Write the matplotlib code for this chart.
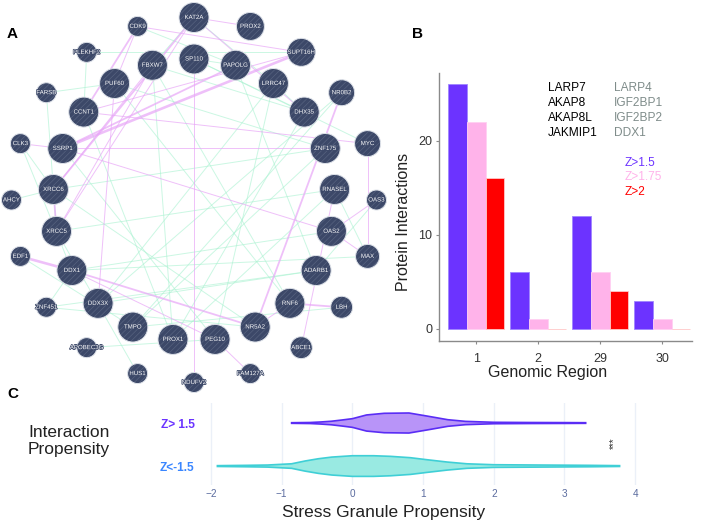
import numpy as np
import matplotlib.pyplot as plt
from matplotlib.patches import Circle
import matplotlib.patheffects as pe

plt.rcParams['font.family'] = ['Liberation Sans', 'DejaVu Sans']
plt.rcParams['hatch.linewidth'] = 0.5

# ---- A: network (circular layout, two rings) ----
outer_nodes = ['OAS3', 'MYC', 'NR0B2', 'SUPT16H', 'PROX2', 'KAT2A', 'CDK9', 'PLEKHF2',
               'FARSB', 'CLK3', 'AHCY', 'EDF1', 'ZNF451', 'APOBEC3G', 'HUS1', 'NDUFV2',
               'FAM127A', 'ABCE1', 'LBH', 'MAX']
inner_nodes = ['RNASEL', 'ZNF175', 'DHX35', 'LRRC47', 'PAPOLG', 'SP110', 'FBXW7', 'PUF60',
               'CCNT1', 'SSRP1', 'XRCC6', 'XRCC5', 'DDX1', 'DDX3X', 'TMPO', 'PROX1', 'PEG10',
               'NR5A2', 'RNF6', 'ADARB1', 'OAS2']

pink_edges = [('SUPT16H', 'SSRP1', 3), ('SUPT16H', 'CCNT1', 1), ('PAPOLG', 'SSRP1', 2),
              ('KAT2A', 'XRCC6', 2), ('KAT2A', 'XRCC5', 1), ('CDK9', 'CCNT1', 2),
              ('CDK9', 'PUF60', 1), ('FBXW7', 'XRCC6', 1), ('FBXW7', 'XRCC5', 1),
              ('XRCC6', 'XRCC5', 2), ('EDF1', 'DDX1', 3), ('DDX1', 'NR5A2', 2),
              ('NR5A2', 'RNF6', 1), ('RNF6', 'LBH', 2), ('NR0B2', 'NR5A2', 2),
              ('RNASEL', 'ABCE1', 1), ('OAS2', 'MAX', 1), ('OAS3', 'OAS2', 1),
              ('MYC', 'MAX', 1), ('SSRP1', 'OAS2', 1), ('SP110', 'NDUFV2', 1),
              ('PEG10', 'FAM127A', 1), ('CLK3', 'SSRP1', 1), ('CCNT1', 'MYC', 1),
              ('CDK9', 'SUPT16H', 1), ('KAT2A', 'PROX2', 1), ('PUF60', 'DDX3X', 1),
              ('SSRP1', 'ZNF175', 1), ('DDX1', 'PEG10', 1), ('KAT2A', 'DHX35', 1)]

green_edges = [('FARSB', 'XRCC5'), ('FARSB', 'PUF60'), ('CLK3', 'XRCC6'), ('CLK3', 'DDX1'),
               ('AHCY', 'XRCC6'), ('EDF1', 'TMPO'), ('ZNF451', 'NR5A2'), ('ZNF451', 'DDX1'),
               ('APOBEC3G', 'PEG10'), ('HUS1', 'XRCC5'), ('DDX3X', 'ADARB1'), ('TMPO', 'NR0B2'),
               ('PROX1', 'DHX35'), ('PEG10', 'LRRC47'), ('SP110', 'PAPOLG'), ('KAT2A', 'LRRC47'),
               ('CDK9', 'PAPOLG'), ('PLEKHF2', 'SUPT16H'), ('FBXW7', 'RNF6'), ('PUF60', 'ZNF175'),
               ('XRCC5', 'RNASEL'), ('DDX1', 'OAS2'), ('PROX1', 'RNASEL'), ('TMPO', 'ZNF175'),
               ('DDX3X', 'LRRC47'), ('MAX', 'DDX1'), ('ADARB1', 'ZNF451'), ('NR5A2', 'XRCC6'),
               ('RNF6', 'PUF60'), ('SSRP1', 'PEG10'), ('CCNT1', 'PROX1'), ('LBH', 'TMPO'),
               ('PAPOLG', 'ADARB1'), ('MYC', 'SP110'), ('NR0B2', 'DDX3X'), ('FBXW7', 'PROX1'),
               ('SP110', 'DHX35'), ('KAT2A', 'FBXW7'), ('PLEKHF2', 'CCNT1'), ('OAS3', 'ADARB1'),
               ('MAX', 'RNASEL'), ('LRRC47', 'DHX35'), ('XRCC6', 'ZNF175'), ('FBXW7', 'DHX35')]

# ---- B: bars ----
regions = ['1', '2', '29', '30']
z15 = [26, 6, 12, 3]
z175 = [22, 1, 6, 1]
z2 = [16, 0, 4, 0]
genes_left = ['LARP7', 'AKAP8', 'AKAP8L', 'JAKMIP1']
genes_right = ['LARP4', 'IGF2BP1', 'IGF2BP2', 'DDX1']
z_labels = ['Z>1.5', 'Z>1.75', 'Z>2']

# ---- C: violin outlines (relative density) ----
hi_x = [-0.86, -0.6, -0.45, -0.3, -0.15, 0.0, 0.2, 0.45, 0.8, 1.05, 1.35, 1.6, 2.0, 2.5, 3.0, 3.3]
hi_d = [0.03, 0.05, 0.1, 0.17, 0.29, 0.42, 0.78, 0.94, 0.97, 0.68, 0.32, 0.16, 0.07, 0.05, 0.04, 0.03]
lo_x = [-1.91, -1.5, -1.2, -0.86, -0.67, -0.48, -0.29, 0.0, 0.3, 0.54, 0.82, 1.06, 1.34, 1.62,
        2.0, 2.66, 3.37, 3.78]
lo_d = [0.04, 0.07, 0.1, 0.22, 0.49, 0.71, 0.87, 1.0, 1.0, 0.94, 0.81, 0.61, 0.39, 0.22,
        0.13, 0.1, 0.07, 0.04]

purple, pink, red = '#6c33ff', '#ffb3ea', '#ff0000'

fig = plt.figure(figsize=(7.02, 5.25), dpi=100)

# network axes in pixel units
axn = fig.add_axes([0, 0, 390 / 702, 1])
axn.set_xlim(0, 390)
axn.set_ylim(525, 0)
axn.axis('off')

cx, cy = 194, 200
pos = {}
for i, n in enumerate(outer_nodes):
    a = np.deg2rad(i * 360 / len(outer_nodes))
    pos[n] = (cx + 182.5 * np.cos(a), cy - 182.5 * np.sin(a))
start = 90 - 5 * 360 / len(inner_nodes)
for i, n in enumerate(inner_nodes):
    a = np.deg2rad(start + i * 360 / len(inner_nodes))
    pos[n] = (cx + 141 * np.cos(a), cy - 141 * np.sin(a))

radius = {n: 15 for n in inner_nodes}
radius.update({n: 10 for n in outer_nodes})
radius.update({'KAT2A': 15, 'PROX2': 14, 'SUPT16H': 14, 'NR0B2': 13, 'MYC': 13,
               'MAX': 12, 'LBH': 11, 'ABCE1': 11})

for a, b in green_edges:
    axn.plot([pos[a][0], pos[b][0]], [pos[a][1], pos[b][1]], color='#a8f2d0',
             lw=0.7, alpha=0.6, zorder=1)
for a, b, w in pink_edges:
    axn.plot([pos[a][0], pos[b][0]], [pos[a][1], pos[b][1]], color='#e8a6f7',
             lw=0.7 + 0.6 * (w - 1), alpha=0.7, zorder=2)

for n, (x, y) in pos.items():
    r = radius[n]
    axn.add_patch(Circle((x, y), r, facecolor='#3c4868', edgecolor='#56627f',
                         hatch='//////', lw=0, zorder=3))
    axn.add_patch(Circle((x, y), r, fill=False, edgecolor='#dfe3ea', lw=0.7, zorder=4))
    axn.text(x, y, n, color='white', fontsize=4.4, ha='center', va='center', zorder=5,
             path_effects=[pe.withStroke(linewidth=1.0, foreground='#3c4868')])

# ---- B ----
axb = fig.add_axes([439 / 702, 1 - 341 / 525, 253 / 702, 268 / 525])
x = np.arange(len(regions))
w = 0.3
axb.bar(x - w, z15, w, color=purple, edgecolor='#9f86ff', linewidth=0.6)
axb.bar(x, z175, w, color=pink, edgecolor='#ffd0f2', linewidth=0.6)
axb.bar(x + w, z2, w, color=red, edgecolor='#ffc8c8', linewidth=0.6)
axb.set_xlim(-0.6, 3.48)
axb.set_ylim(-1.3, 27.2)
axb.set_xticks(x)
axb.set_xticklabels(regions)
axb.set_yticks([0, 10, 20])
for s in ['top', 'right']:
    axb.spines[s].set_visible(False)
for s in ['left', 'bottom']:
    axb.spines[s].set_color('#8a8a8a')
    axb.spines[s].set_linewidth(1.0)
axb.tick_params(axis='x', length=2, pad=7, colors='#8a8a8a', labelcolor='#333333', labelsize=9)
axb.tick_params(axis='y', length=2, pad=3, colors='#8a8a8a', labelcolor='#333333', labelsize=9)
fig.text(403 / 702, 1 - 222 / 525, 'Protein Interactions', rotation=90, ha='center',
         va='center', fontsize=11.5, color='#222222')
fig.text(548 / 702, 1 - 373 / 525, 'Genomic Region', ha='center', va='center',
         fontsize=11.5, color='#222222')

for i, (g1, g2) in enumerate(zip(genes_left, genes_right)):
    yy = 1 - (88 + 15 * i) / 525
    fig.text(548 / 702, yy, g1, fontsize=8.6, color='black', va='center')
    fig.text(614 / 702, yy, g2, fontsize=8.6, color='#7f8c8a', va='center')
for i, (lab, c) in enumerate(zip(z_labels, [purple, pink, red])):
    fig.text(625 / 702, 1 - (163 + 14.5 * i) / 525, lab, fontsize=8.6, color=c, va='center')

# ---- C ----
axc = fig.add_axes([200 / 702, 1 - 485 / 525, 450 / 702, 82 / 525])
axc.set_xlim(-2.156, 4.21)
axc.set_ylim(-0.44, 1.465)
half = 0.24
for xs, ds, yc, lc, fc in [(hi_x, hi_d, 1, '#5a2df5', '#b894f8'),
                           (lo_x, lo_d, 0, '#3fcfd6', '#99eae2')]:
    xs = np.array(xs)
    ds = np.array(ds) * half
    px = np.concatenate([xs, xs[::-1]])
    py = np.concatenate([yc + ds, (yc - ds)[::-1]])
    axc.fill(px, py, facecolor=fc, edgecolor=lc, lw=1.2, zorder=3)

for s in axc.spines.values():
    s.set_visible(False)
axc.set_xticks(range(-2, 5))
axc.grid(axis='x', color='#ebf0f8', lw=1, zorder=0)
axc.set_axisbelow(True)
axc.set_yticks([1, 0])
axc.set_yticklabels(['Z> 1.5', 'Z<-1.5'], fontweight='bold', fontsize=8.6)
for t, c in zip(axc.get_yticklabels(), ['#6a33ff', '#3a86ff']):
    t.set_color(c)
axc.tick_params(axis='y', length=0, pad=4)
axc.tick_params(axis='x', length=0, pad=3, labelsize=7.2, labelcolor='#5a6b9e')
axc.text(3.7, 0.53, '***', rotation=90, ha='center', va='center', fontsize=7, color='#333333')

fig.text(384 / 702, 1 - 513 / 525, 'Stress Granule Propensity', ha='center', va='center',
         fontsize=12.5, color='#222222')
fig.text(28 / 702, 1 - 441 / 525, 'Interaction\nPropensity', ha='left', va='center',
         fontsize=12.5, color='#222222', linespacing=1.2)

# panel letters
for lab, px_, py_ in [('A', 7, 33.5), ('B', 412, 33.5), ('C', 7, 393.5)]:
    fig.text(px_ / 702, 1 - py_ / 525, lab, fontsize=11, fontweight='bold', va='center')

fig.savefig('out.png', dpi=100)
